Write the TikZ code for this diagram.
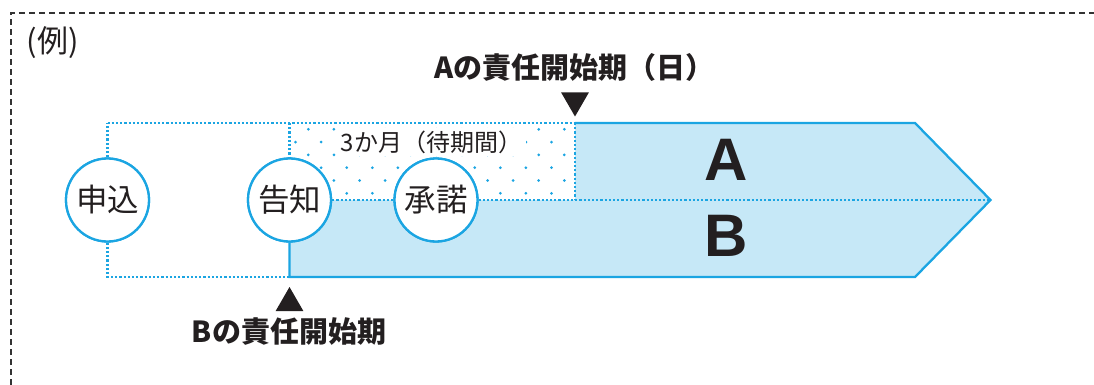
\documentclass[tikz,border=0pt]{standalone}
\usepackage{fontspec}
\usetikzlibrary{shapes.geometric}
\newfontfamily\jp{Noto Sans CJK JP}
\newfontfamily\lat{Liberation Sans}
\definecolor{lineblue}{HTML}{1BA5E2}
\definecolor{fillblue}{HTML}{C6E8F7}
\definecolor{framegray}{HTML}{333333}
\definecolor{ink}{HTML}{231F20}
\begin{document}
\begin{tikzpicture}[x=1pt,y=-1pt,
  solidb/.style={draw=lineblue, line width=2.3pt, line join=miter},
  dotb/.style={draw=lineblue, line width=2.2pt, dash pattern=on 2.2pt off 2pt},
  circ/.style={circle, draw=lineblue, line width=2.3pt, fill=white, minimum size=83pt, inner sep=0pt, text=ink, font=\jp\fontsize{31.5}{31.5}\selectfont},
  lbl/.style={inner sep=0pt, text=ink, font=\jp\bfseries\fontsize{29}{29}\selectfont},
  big/.style={inner sep=0pt, text=ink, font=\lat\bfseries\fontsize{60}{60}\selectfont},
  tri/.style={regular polygon, regular polygon sides=3, fill=ink, draw=none, minimum size=32pt, inner sep=0pt}
]
\useasboundingbox (0,0) rectangle (1094,385);
% frame
\draw[framegray, line width=2pt, dash pattern=on 6pt off 4pt] (11,385) -- (11,13) -- (1094,13);
% key points
\coordinate (tl) at (107.5,123);
\coordinate (bl) at (107.5,277);
\coordinate (tm) at (289.5,123);
\coordinate (bm) at (289.5,277);
\coordinate (mm) at (289.5,200);
\coordinate (ta) at (575,123);
\coordinate (ma) at (575,200);
\coordinate (tr) at (915,123);
\coordinate (tip) at (990.5,200);
\coordinate (br) at (915,277);
% blue area
\fill[fillblue] (ta) -- (tr) -- (tip) -- (br) -- (bm) -- (mm) -- (ma) -- cycle;
% stipple of waiting period
\begin{scope}
  \clip (289.5,123) rectangle (575,200);
  \foreach \j in {0,...,5} {
    \foreach \i in {-1,...,12} {
      \fill[lineblue] ({308.3 - 12.8*mod(\j,2) + 25.6*\i}, {129.3 + 12.8*\j}) circle (1.5pt);
    }
  }
\end{scope}
% circles
\node[circ] (c1) at (107.5,200) {申込};
\node[circ] (c2) at (289.5,200) {告知};
\node[circ] (c3) at (436,200) {承諾};
% dotted lines
\draw[dotb] (tl) -- (ta);
\draw[dotb] (c1.north) -- (tl);
\draw[dotb] (c1.south) -- (bl) -- (bm);
\draw[dotb] (tm) -- (c2.north);
\draw[dotb] (c2.east) -- (c3.west);
\draw[dotb] (c3.east) -- (ma) -- (tip);
\draw[dotb] (ta) -- (ma);
% solid outline
\draw[solidb] (ta) -- (tr) -- (tip) -- (br) -- (bm) -- (c2.south);
% redraw circles on top
\node[circ] at (c1) {申込};
\node[circ] at (c2) {告知};
\node[circ] at (c3) {承諾};
% texts
\node[inner sep=0pt, text=ink, font=\jp\fontsize{31}{31}\selectfont] (ex) at (52.5,43) {(例)};
\node[fill=white, inner xsep=4pt, inner ysep=3pt, text=ink, font=\jp\fontsize{24}{24}\selectfont] (wait) at (431.5,142) {3か月（待期間）};
\node[big] (A) at (726.5,160) {A};
\node[big] (B) at (726.5,236) {B};
\node[lbl] (labA) at (574.5,67) {Aの責任開始期（日）};
\node[lbl] (labB) at (289,332) {Bの責任開始期};
\node[tri, shape border rotate=180] (triA) at (ta |- 0,100.5) {};
\node[tri] (triB) at (bm |- 0,303) {};
\end{tikzpicture}
\end{document}
